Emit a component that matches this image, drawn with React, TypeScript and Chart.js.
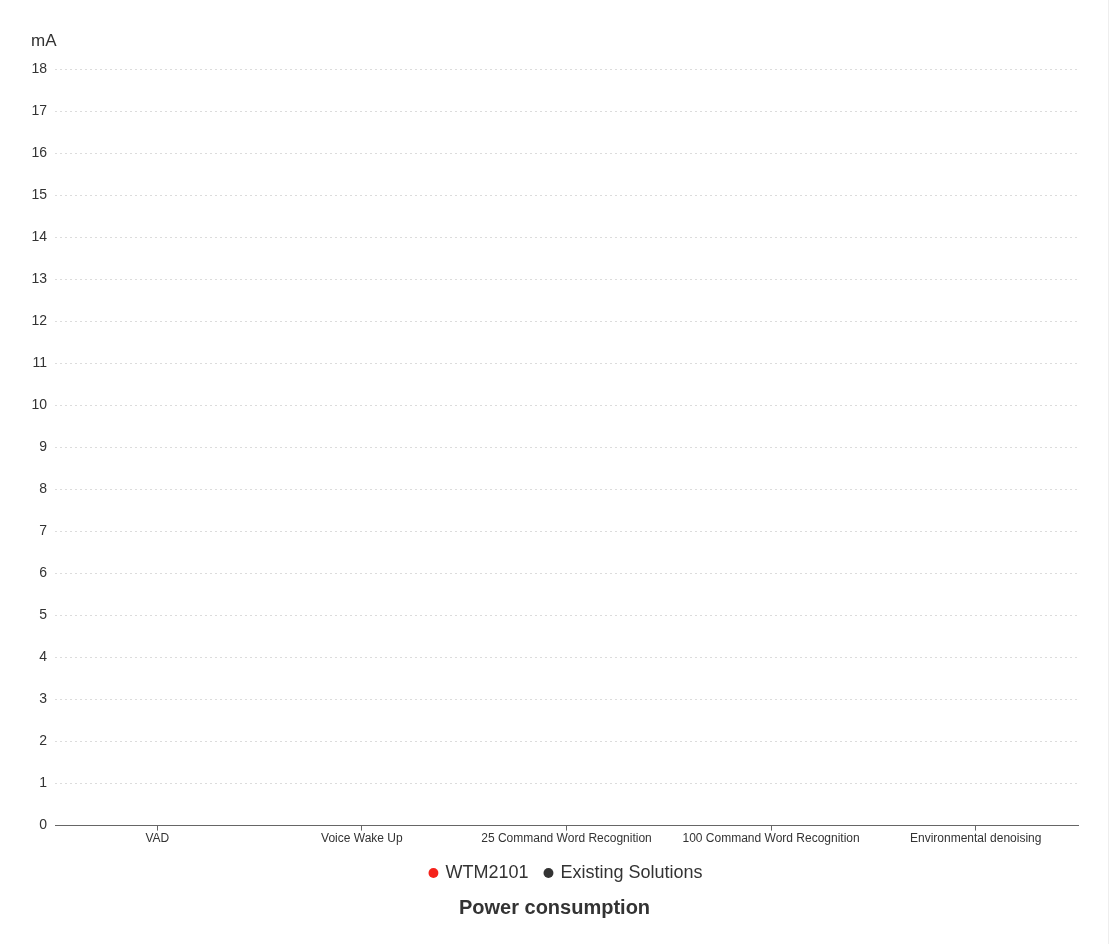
import React, { useEffect, useRef } from 'react';
import { Chart, registerables } from 'chart.js';

Chart.register(...registerables);

// categories along the x axis
const categories = [
  'VAD',
  'Voice Wake Up',
  '25 Command Word Recognition',
  '100 Command Word Recognition',
  'Environmental denoising',
];

// series values (no bars are drawn in the reference, all read as 0)
const wtm2101Values = [0, 0, 0, 0, 0];
const existingValues = [0, 0, 0, 0, 0];

const yMin = 0;
const yMax = 18;
const yStep = 1;

const FONT = "'Liberation Sans', Arial, sans-serif";

const App: React.FC = () => {
  const chartRef = useRef<HTMLCanvasElement>(null);
  const chartInstance = useRef<Chart | null>(null);

  useEffect(() => {
    document.body.style.margin = '0';
    if (!chartRef.current) return;
    if (chartInstance.current) {
      chartInstance.current.destroy();
    }

    chartInstance.current = new Chart(chartRef.current, {
      type: 'bar',
      data: {
        labels: categories,
        datasets: [
          {
            label: 'WTM2101',
            data: wtm2101Values,
            backgroundColor: '#f5221b',
            borderWidth: 0,
          },
          {
            label: 'Existing Solutions',
            data: existingValues,
            backgroundColor: '#333333',
            borderWidth: 0,
          },
        ],
      },
      options: {
        animation: false,
        responsive: true,
        maintainAspectRatio: false,
        layout: {
          padding: { left: 31, right: 30, top: 31, bottom: 24 },
        },
        scales: {
          x: {
            grid: {
              offset: false,
              drawOnChartArea: false,
              drawTicks: true,
              tickLength: 5,
              color: '#666666',
            },
            border: { display: true, color: '#666666', width: 1 },
            ticks: {
              color: '#333333',
              font: { family: FONT, size: 12 },
              padding: 1,
              maxRotation: 0,
              autoSkip: false,
            },
          },
          y: {
            min: yMin,
            max: yMax,
            afterFit: (scale) => {
              scale.width = 24;
            },
            grid: {
              color: '#dcdcdc',
              drawTicks: false,
            },
            border: { display: false, dash: [2, 3] },
            ticks: {
              stepSize: yStep,
              color: '#333333',
              font: { family: FONT, size: 14 },
              padding: 8,
            },
          },
        },
        plugins: {
          legend: {
            position: 'bottom',
            fullSize: false,
            labels: {
              usePointStyle: true,
              pointStyle: 'circle',
              boxWidth: 6,
              boxHeight: 7,
              color: '#333333',
              font: { family: FONT, size: 18 },
              padding: 17,
            },
          },
          subtitle: {
            display: true,
            text: 'mA',
            position: 'top',
            align: 'start',
            color: '#333333',
            font: { family: FONT, size: 17, weight: 'normal' },
            padding: { top: 0, bottom: 18 },
          },
          title: {
            display: true,
            text: 'Power consumption',
            position: 'bottom',
            color: '#333333',
            font: { family: FONT, size: 20, weight: 'bold' },
            padding: { top: 4, bottom: 0 },
          },
          tooltip: { enabled: false },
        },
      },
    });

    return () => {
      if (chartInstance.current) {
        chartInstance.current.destroy();
        chartInstance.current = null;
      }
    };
  }, []);

  return (
    <div
      style={{
        position: 'relative',
        width: 1108,
        height: 944,
        borderRight: '1px solid #eeeeee',
        background: '#ffffff',
      }}
    >
      <canvas ref={chartRef}></canvas>
    </div>
  );
};

export default App;
